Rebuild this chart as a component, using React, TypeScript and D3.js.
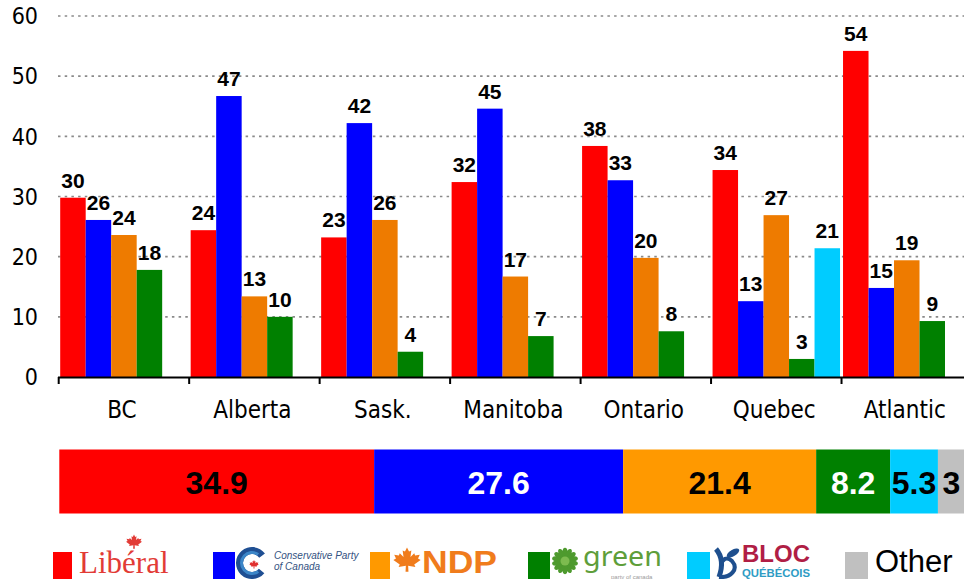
import React from "react";
import * as d3 from "d3";

const categories = ["BC", "Alberta", "Sask.", "Manitoba", "Ontario", "Quebec", "Atlantic"];
const partyKeys = ["Liberal", "Conservative", "NDP", "Green", "Bloc"];
const liberal = [29.8, 24.4, 23.2, 32.4, 38.4, 34.4, 54.2];
const conservative = [26.1, 46.7, 42.2, 44.6, 32.7, 12.6, 14.8];
const ndp = [23.6, 13.4, 26.1, 16.7, 19.8, 26.9, 19.4];
const green = [17.8, 10.0, 4.2, 6.8, 7.6, 3.0, 9.3];
const bloc: (number | null)[] = [null, null, null, null, null, 21.4, null];
const yTicks = [0, 10, 20, 30, 40, 50, 60];

const nationalParties = ["Liberal", "Conservative", "NDP", "Green", "Bloc", "Other"];
const nationalValues = [34.9, 27.6, 21.4, 8.2, 5.3, 3];

const series: Record<string, (number | null)[]> = {
  Liberal: liberal,
  Conservative: conservative,
  NDP: ndp,
  Green: green,
  Bloc: bloc,
};

const barColor: Record<string, string> = {
  Liberal: "#FF0000",
  Conservative: "#0000FF",
  NDP: "#EE7B00",
  Green: "#008000",
  Bloc: "#00CCFF",
};
const stackColor: Record<string, string> = {
  Liberal: "#FF0000",
  Conservative: "#0000FF",
  NDP: "#FF9900",
  Green: "#008000",
  Bloc: "#00CCFF",
  Other: "#C0C0C0",
};
const stackText: Record<string, string> = {
  Liberal: "#000",
  Conservative: "#fff",
  NDP: "#000",
  Green: "#fff",
  Bloc: "#000",
  Other: "#000",
};

const W = 964;
const H = 579;
const sansBold = "'Liberation Sans', Arial, sans-serif";
const axisFont = "'DejaVu Sans Condensed', 'DejaVu Sans', Verdana, sans-serif";

const leafPts: [number, number][] = [
  [0, -0.5], [0.07, -0.36], [0.15, -0.4], [0.12, -0.17], [0.25, -0.3], [0.28, -0.22],
  [0.44, -0.25], [0.38, -0.12], [0.47, -0.07], [0.25, 0.09], [0.29, 0.17], [0.04, 0.13],
  [0.05, 0.34], [-0.05, 0.34], [-0.04, 0.13], [-0.29, 0.17], [-0.25, 0.09], [-0.47, -0.07],
  [-0.38, -0.12], [-0.44, -0.25], [-0.28, -0.22], [-0.25, -0.3], [-0.12, -0.17], [-0.15, -0.4],
  [-0.07, -0.36],
];
function leaf(cx: number, cy: number, s: number) {
  return "M" + leafPts.map(([a, b]) => `${cx + a * s},${cy + b * s}`).join("L") + "Z";
}

export default function App() {
  const x = d3.scaleBand<string>().domain(categories).range([58.7, 972]);
  const inner = d3.scaleBand<string>().domain(partyKeys).range([1.5, x.bandwidth() - 1.5]);
  const y = d3.scaleLinear().domain([0, 60]).range([377, 16]);
  const fmt = d3.format(".0f");

  const total = d3.sum(nationalValues);
  const sx = d3.scaleLinear().domain([0, total]).range([59.3, 965]);
  const cum = d3.cumsum(nationalValues);

  const bars: JSX.Element[] = [];
  const labels: JSX.Element[] = [];
  categories.forEach((c, i) => {
    partyKeys.forEach((p) => {
      const v = series[p][i];
      if (v == null) return;
      const bx = (x(c) as number) + (inner(p) as number);
      const bw = inner.bandwidth();
      bars.push(
        <rect key={c + p} x={bx} y={y(v)} width={bw} height={y(0) - y(v)} fill={barColor[p]} />
      );
      labels.push(
        <text key={"l" + c + p} x={bx + bw / 2} y={y(v) - 10} textAnchor="middle"
          fontFamily={sansBold} fontWeight="bold" fontSize={21} fill="#000">
          {fmt(v)}
        </text>
      );
    });
  });

  const boundaries = categories.map((c) => x(c) as number);
  const arcOuter = d3.arc()({ innerRadius: 9, outerRadius: 16, startAngle: 0.72 * Math.PI, endAngle: 2.3 * Math.PI } as any) as string;
  const arcInner = d3.arc()({ innerRadius: 9, outerRadius: 12, startAngle: 0.8 * Math.PI, endAngle: 2.2 * Math.PI } as any) as string;

  const petals = d3.range(14).map((k) => k * (360 / 14));

  return (
    <svg width={W} height={H} style={{ position: "absolute", left: 0, top: 0, background: "#fff" }}>
      <rect x={0} y={0} width={W} height={H} fill="#fff" />
      {/* grid */}
      {yTicks.filter((t) => t > 0).map((t) => (
        <line key={"g" + t} x1={58} x2={W} y1={y(t)} y2={y(t)} stroke="#8a8a8a" strokeWidth={1.6} strokeDasharray="2.5,4.2" />
      ))}
      {yTicks.map((t) => (
        <text key={"yt" + t} x={38} y={y(t)} dy="0.36em" textAnchor="end" fontFamily={axisFont} fontSize={23} fill="#000">
          {t}
        </text>
      ))}
      {bars}
      {/* axis */}
      <line x1={58} x2={W} y1={377.5} y2={377.5} stroke="#000" strokeWidth={2} />
      {boundaries.map((b, i) => (
        <line key={"tk" + i} x1={b} x2={b} y1={377} y2={384} stroke="#000" strokeWidth={2} />
      ))}
      {categories.map((c) => (
        <text key={"xl" + c} x={(x(c) as number) + x.bandwidth() / 2 - 2} y={418} textAnchor="middle"
          fontFamily={axisFont} fontSize={24} fill="#000">
          {c}
        </text>
      ))}
      {labels}
      {/* national stacked bar */}
      {nationalParties.map((p, i) => {
        const a = i === 0 ? 0 : cum[i - 1];
        const b = cum[i];
        return (
          <g key={"s" + p}>
            <rect x={sx(a)} y={449.5} width={sx(b) - sx(a)} height={64} fill={stackColor[p]} />
            <text x={(sx(a) + sx(b)) / 2} y={494} textAnchor="middle" fontFamily={sansBold}
              fontWeight="bold" fontSize={32} fill={stackText[p]}>
              {nationalValues[i]}
            </text>
          </g>
        );
      })}
      {/* legend */}
      <g>
        {/* Liberal */}
        <rect x={53} y={552} width={19} height={30} fill="#FF0000" />
        <path d={leaf(134, 543, 17)} fill="#E23B36" />
        <text x={79} y={573} fontFamily="'Liberation Serif', 'Times New Roman', serif" fontSize={31} fill="#E23B36">
          Libéral
        </text>
        {/* Conservative */}
        <rect x={213} y={552} width={22} height={30} fill="#0000FF" />
        <g transform="translate(252,563)">
          <path d={arcOuter} fill="#1F4F93" />
          <path d={arcInner} fill="#3C86C8" />
        </g>
        <path d={leaf(254, 565, 10)} fill="#E03030" />
        <text x={274} y={559} fontFamily={sansBold} fontStyle="italic" fontSize={10} fill="#34527F">
          Conservative Party
        </text>
        <text x={274} y={570} fontFamily={sansBold} fontStyle="italic" fontSize={10} fill="#34527F">
          of Canada
        </text>
        {/* NDP */}
        <rect x={370} y={552} width={20} height={30} fill="#FF9900" />
        <path d={leaf(407, 562, 29)} fill="#F07C1C" />
        <text x={422} y={573} fontFamily={sansBold} fontWeight="900" fontSize={32} fill="#F07C1C"
          textLength={75} lengthAdjust="spacingAndGlyphs">
          NDP
        </text>
        {/* Green */}
        <rect x={528} y={552} width={22} height={30} fill="#008000" />
        <g transform="translate(565,561)">
          {petals.map((a) => (
            <ellipse key={"p" + a} cx={0} cy={-8} rx={2.6} ry={5.2} fill="#4E9A2E" transform={`rotate(${a})`} />
          ))}
          <circle r={4.5} fill="#7DBB4F" />
        </g>
        <text x={583} y={566} fontFamily="'Noto Sans', Arial, sans-serif" fontSize={28} fill="#5E9E3A"
          textLength={79} lengthAdjust="spacingAndGlyphs">
          green
        </text>
        <text x={611} y={578.5} fontFamily="Arial, sans-serif" fontSize={6} fill="#9a9a9a">
          party of canada
        </text>
        {/* Bloc */}
        <rect x={687} y={552} width={23} height={30} fill="#00CCFF" />
        <path d="M716,549 C722,556 723,566 719,577" stroke="#1E4F8E" strokeWidth={5} fill="none" />
        <path d="M719,577 C731,578 739,569 732,561 C727,556 722,559 721,565" stroke="#1E4F8E" strokeWidth={4} fill="none" />
        <ellipse cx={733} cy={553} rx={7} ry={3.2} fill="#1E4F8E" transform="rotate(-30,733,553)" />
        <text x={742} y={562} fontFamily={sansBold} fontWeight="bold" fontSize={23} fill="#B01E45"
          textLength={68} lengthAdjust="spacingAndGlyphs">
          BLOC
        </text>
        <text x={742} y={577} fontFamily={sansBold} fontWeight="bold" fontSize={11.5} fill="#2E9CC4"
          textLength={68} lengthAdjust="spacingAndGlyphs">
          QUÉBÉCOIS
        </text>
        {/* Other */}
        <rect x={845} y={552} width={23} height={30} fill="#C0C0C0" />
        <text x={875} y={572} fontFamily={sansBold} fontSize={31} fill="#000">
          Other
        </text>
      </g>
    </svg>
  );
}
